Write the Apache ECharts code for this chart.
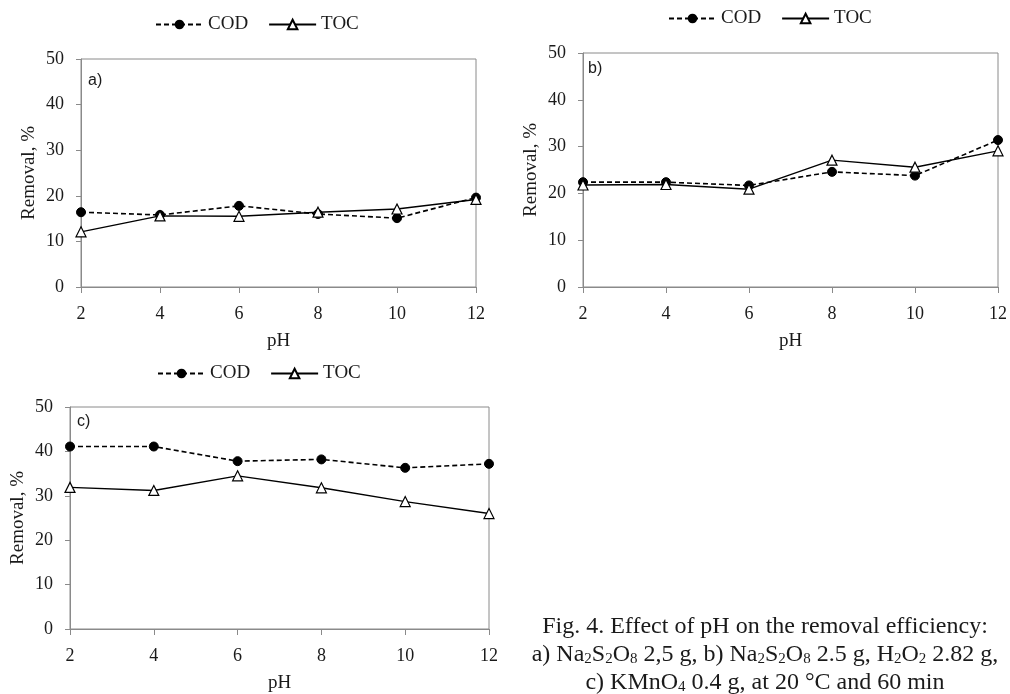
<!DOCTYPE html>
<html>
<head>
<meta charset="utf-8">
<script src="https://cdn.jsdelivr.net/npm/echarts@6/dist/echarts.min.js"></script>
<style>
html, body { margin: 0; padding: 0; background: #fff; }
#chart { width: 1010px; height: 694px; }
</style>
</head>
<body>
<div id="chart"></div>
<script>
//pH values (x axis)
var phValues = [2, 4, 6, 8, 10, 12];
//a) Na2S2O8 2,5 g
var codA = [16.4, 15.8, 17.8, 16.0, 15.1, 19.6];
var tocA = [12.1, 15.6, 15.5, 16.4, 17.1, 19.2];
//b) Na2S2O8 + H2O2
var codB = [22.4, 22.4, 21.7, 24.6, 23.8, 31.4];
var tocB = [21.8, 21.9, 20.9, 27.1, 25.6, 29.1];
//c) KMnO4
var codC = [41.1, 41.1, 37.8, 38.2, 36.3, 37.2];
var tocC = [31.9, 31.2, 34.5, 31.8, 28.7, 26.0];
//labels
var panelLabels = ['a)', 'b)', 'c)'];
var legendNames = ['COD', 'TOC'];
var xName = 'pH';
var yName = 'Removal, %';

var serif = 'Liberation Serif';
var textColor = '#1a1a1a';
var axisColor = '#8a8a8a';

//pair up x and y values
function pairs(ys) {
    var out = [];
    for (var i = 0; i < phValues.length; i++) {
        out.push([phValues[i], ys[i]]);
    }
    return out;
}

//plot boxes
var grids = [
    { left: 81, top: 59, width: 395, height: 228 },
    { left: 583, top: 53, width: 416, height: 234 },
    { left: 70, top: 407, width: 419, height: 227 }
];
var legendPos = [
    { left: 155, top: 15 },
    { left: 668, top: 9 },
    { left: 157, top: 364 }
];
var labelPos = [[88, 82], [588, 70], [77, 423]];
var panelData = [[codA, tocA], [codB, tocB], [codC, tocC]];

var xAxes = [], yAxes = [], series = [], legends = [], graphics = [];
for (var k = 0; k < 3; k++) {
    grids[k].show = true;
    grids[k].borderColor = axisColor;
    grids[k].borderWidth = 1;
    xAxes.push({
        gridIndex: k,
        type: 'value',
        min: 2,
        max: 12,
        interval: 2,
        name: xName,
        nameLocation: 'middle',
        nameGap: 45,
        nameTextStyle: { fontFamily: serif, fontSize: 19, color: textColor },
        axisLine: { lineStyle: { color: axisColor, width: 1 } },
        axisTick: { show: true, length: 6, lineStyle: { color: axisColor } },
        axisLabel: { fontFamily: serif, fontSize: 18, color: textColor, margin: 18 },
        splitLine: { show: false }
    });
    yAxes.push({
        gridIndex: k,
        type: 'value',
        min: 0,
        max: 50,
        interval: 10,
        name: yName,
        nameLocation: 'middle',
        nameGap: 42,
        nameTextStyle: { fontFamily: serif, fontSize: 19, color: textColor },
        axisLine: { show: true, lineStyle: { color: axisColor, width: 1 } },
        axisTick: { show: true, length: 5, lineStyle: { color: axisColor } },
        axisLabel: { fontFamily: serif, fontSize: 18, color: textColor, margin: 17 },
        splitLine: { show: false }
    });
    series.push({
        name: legendNames[0],
        type: 'line',
        xAxisIndex: k,
        yAxisIndex: k,
        data: pairs(panelData[k][0]),
        symbol: 'circle',
        symbolSize: 9,
        itemStyle: { color: '#000', borderColor: '#000' },
        lineStyle: { color: '#000', width: 1.6, type: [5, 3] },
        animation: false,
        z: 3
    });
    series.push({
        name: legendNames[1],
        type: 'line',
        xAxisIndex: k,
        yAxisIndex: k,
        data: pairs(panelData[k][1]),
        symbol: 'triangle',
        symbolSize: 10,
        showAllSymbol: true,
        itemStyle: { color: '#fff', borderColor: '#000', borderWidth: 1.2 },
        lineStyle: { color: '#000', width: 1.4 },
        animation: false,
        z: 4
    });
    legends.push({
        data: legendNames,
        left: legendPos[k].left,
        top: legendPos[k].top,
        itemWidth: 47,
        itemHeight: 12,
        itemGap: 20,
        padding: 0,
        selectedMode: false,
        textStyle: { fontFamily: serif, fontSize: 19, color: textColor }
    });
    graphics.push({
        type: 'text',
        left: labelPos[k][0],
        top: labelPos[k][1] - 9,
        style: {
            text: panelLabels[k],
            font: '16px "Liberation Sans"',
            fill: textColor
        }
    });
}

//figure caption with subscripts
graphics.push({
    type: 'text',
    x: 765,
    y: 611,
    style: {
        text: '{n|Fig. 4. Effect of pH on the removal efficiency:}\n' +
            '{n|a) Na}{s|2}{n|S}{s|2}{n|O}{s|8}{n| 2,5 g, b) Na}{s|2}{n|S}{s|2}{n|O}{s|8}{n| 2.5 g, H}{s|2}{n|O}{s|2}{n| 2.82 g,}\n' +
            '{n|c) KMnO}{s|4}{n| 0.4 g, at 20 °C and 60 min}',
        align: 'center',
        fill: textColor,
        rich: {
            n: { fontFamily: serif, fontSize: 24, lineHeight: 28, color: textColor, verticalAlign: 'bottom' },
            s: { fontFamily: serif, fontSize: 15, lineHeight: 15, color: textColor, verticalAlign: 'bottom' }
        }
    }
});

var chart = echarts.init(document.getElementById('chart'));
var option = {
    backgroundColor: '#fff',
    animation: false,
    grid: grids,
    xAxis: xAxes,
    yAxis: yAxes,
    legend: legends,
    series: series,
    graphic: graphics
};
chart.setOption(option);
</script>
</body>
</html>
